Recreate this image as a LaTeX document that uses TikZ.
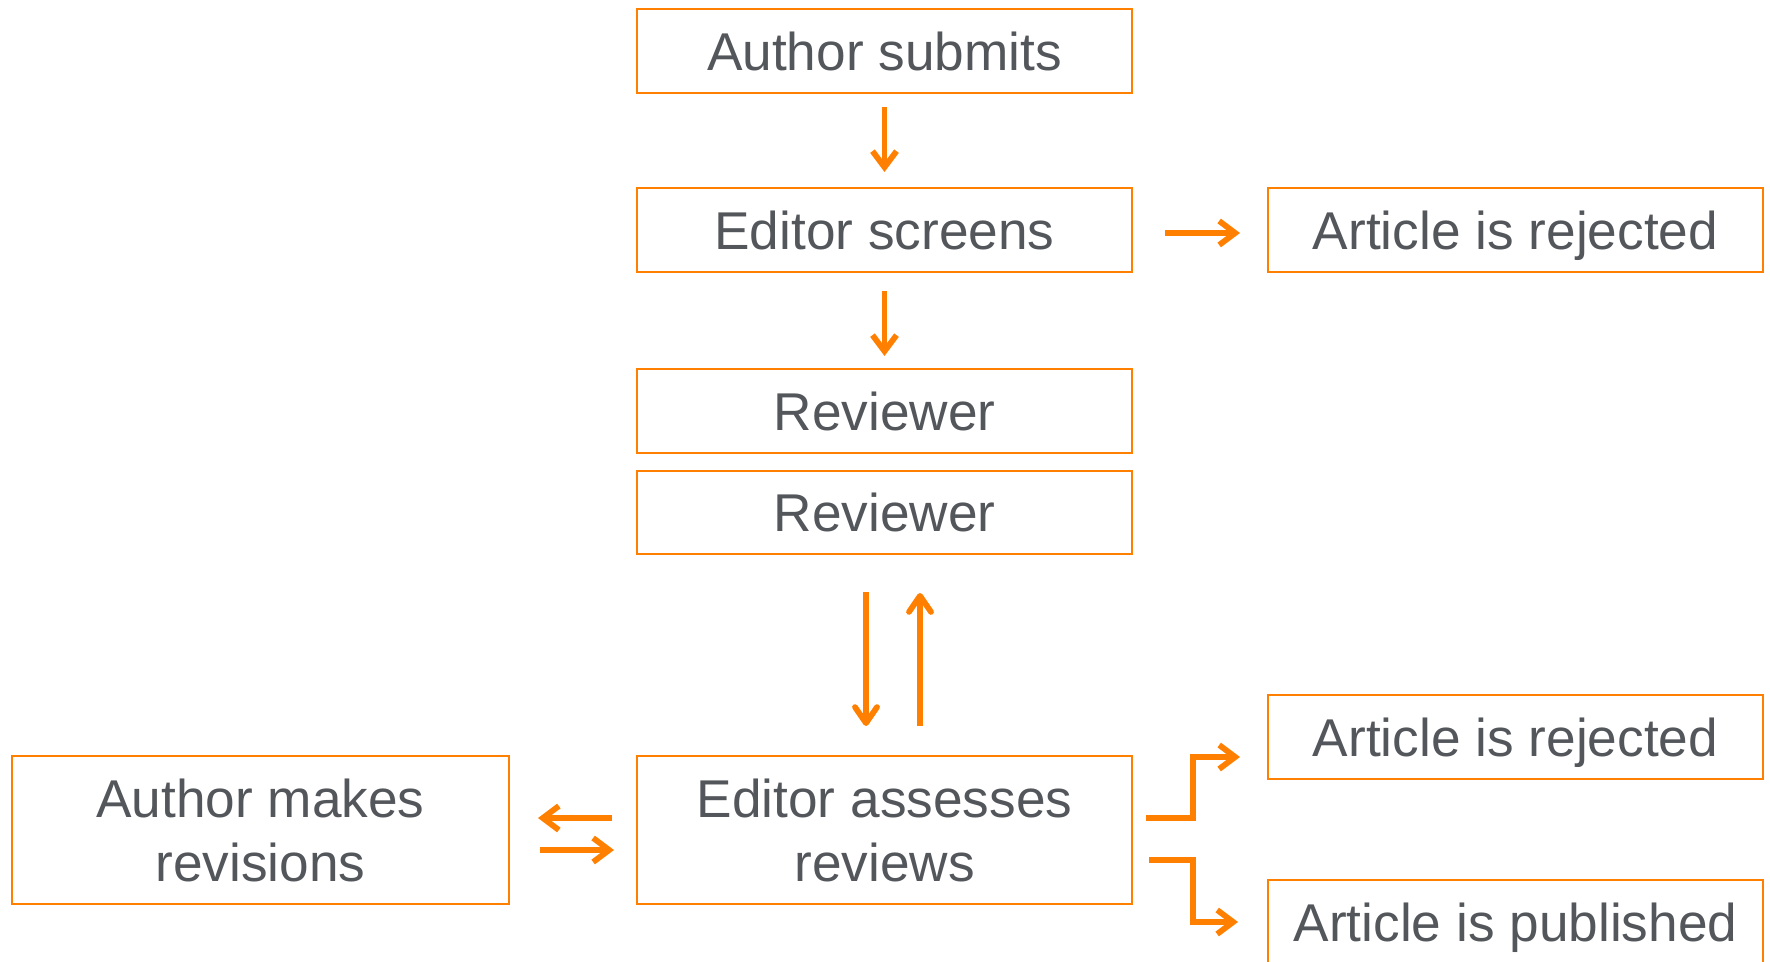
\documentclass[tikz,border=0pt]{standalone}
\usepackage{fontspec}
\setmainfont{Liberation Sans}
\usetikzlibrary{arrows.meta, positioning, calc}
\definecolor{flowOrange}{HTML}{FF8000}
\definecolor{flowGray}{HTML}{53565A}

\begin{document}
\begin{tikzpicture}[x=0.5pt, y=-0.5pt,
    stage/.style={draw=flowOrange, line width=1pt, minimum width=247.5pt, minimum height=42pt,
      inner sep=0pt, text=flowGray, font=\fontsize{26.6}{32}\selectfont, align=center},
    single/.style={stage, text depth=0pt},
    flow/.style={draw=flowOrange, line width=2.9pt, -{Straight Barb[length=8pt, width=12pt]}},
    slimflow/.style={flow, -{Straight Barb[length=8pt, width=11pt, round]}}]
  \useasboundingbox (0,0) rectangle (1770,962);

  % Draw the stages of the process
  \node[single] (submit) at (884.5,51) {Author submits};
  \node[single] (screen) at (884.5,230) {Editor screens};
  \node[single] (reject1) at (1515.5,230) {Article is rejected};
  \node[single] (revA) at (884.5,411) {Reviewer};
  \node[single, minimum height=41.5pt] (revB) at (884.5,512.5) {Reviewer};
  \node[stage, minimum height=74pt] (assess) at (884.5,830) {Editor assesses\\reviews};
  \node[stage, minimum height=74pt, minimum width=248.5pt] (revise) at (260.5,830) {Author makes\\revisions};
  \node[single] (reject2) at (1515.5,737) {Article is rejected};
  \node[single] (publish) at (1515.5,922) {Article is published};

  % Draw the straight arrows
  \draw[flow, shorten <=6.5pt, shorten >=7.5pt] (submit) -- (screen);
  \draw[flow, shorten <=9pt, shorten >=6pt] (screen) -- (revA);
  \draw[flow] ([shift={(32,3)}]screen.east) -- ([shift={(-27,3)}]reject1.west);

  % Arrows between the reviewers and the editor
  \draw[slimflow] ([shift={(-18.5,37)}]revB.south) -- ([shift={(-18.5,-29)}]assess.north);
  \draw[slimflow] ([shift={(35.5,-29)}]assess.north) -- ([shift={(35.5,38)}]revB.south);

  % Arrows between the editor and the author
  \draw[flow] ([shift={(-24,-12)}]assess.west) -- ([shift={(28,-12)}]revise.east);
  \draw[flow] ([shift={(30,20)}]revise.east) -- ([shift={(-22,20)}]assess.west);

  % Draw the decision arrows
  \draw[flow] ($(assess.east)+(13,-12)$) -| ($(reject2.west)+(-74,20)$) -- ($(reject2.west)+(-27,20)$);
  \draw[flow] ($(assess.east)+(16,30)$) -| ($(publish.west)+(-74,0)$) -- ($(publish.west)+(-29,0)$);
\end{tikzpicture}
\end{document}
